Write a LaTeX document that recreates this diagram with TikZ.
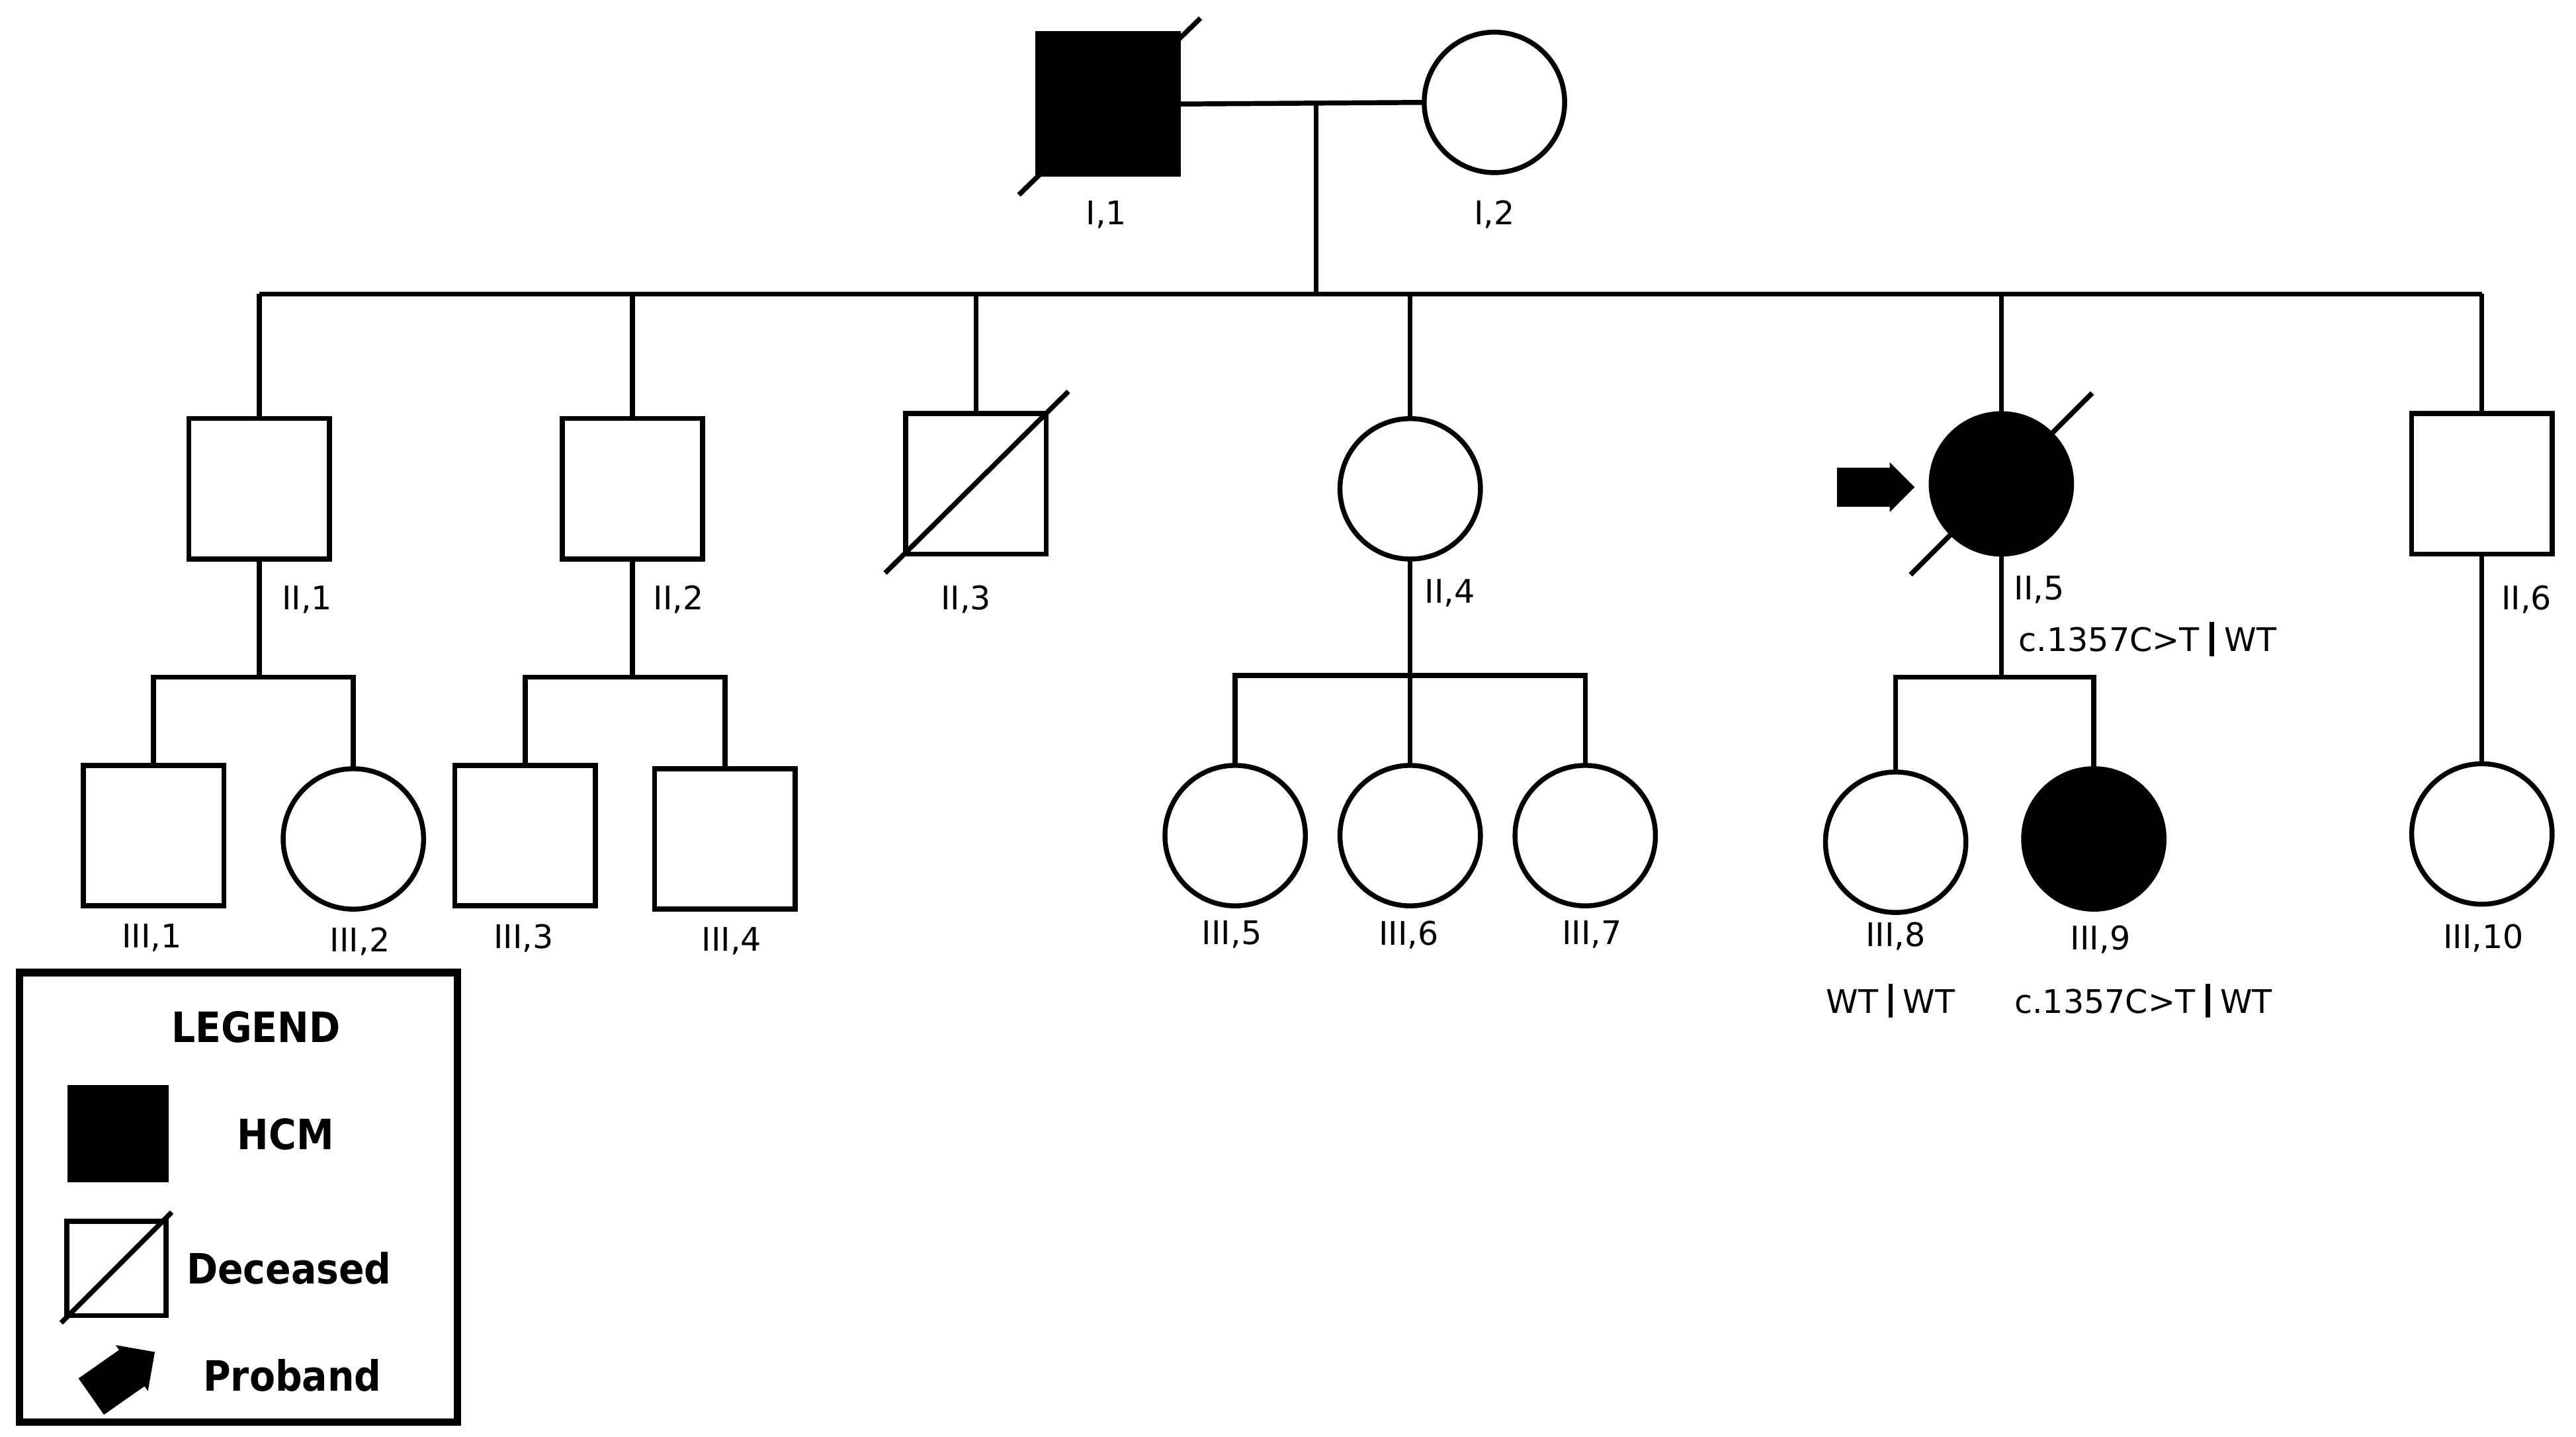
\documentclass[tikz,border=0pt]{standalone}
\usepackage{fontspec}
\setmainfont{DejaVu Sans}
\newfontfamily\legfont{DejaVu Sans Condensed}
\usetikzlibrary{shapes.arrows}
\newcommand{\gbar}{\ \rule[-0.15em]{0.13em}{1.05em}\ }
\begin{document}
\begin{tikzpicture}[x=0.01cm,y=-0.01cm,line width=0.85pt,
  sq/.style={draw,rectangle,minimum size=0.85cm,inner sep=0pt,outer sep=0pt},
  ci/.style={draw,circle,minimum size=0.85cm,inner sep=0pt,outer sep=0pt},
  aff/.style={fill=black},
  lbl/.style={font=\fontsize{5.6}{6.5}\selectfont,inner sep=0pt},
  leg/.style={font=\legfont\fontsize{7.2}{9}\selectfont\bfseries,inner sep=0pt},
  pro/.style={single arrow,fill=black,draw=none,minimum width=0.3cm,minimum height=0.47cm,single arrow head extend=0.02cm,single arrow tip angle=90,inner sep=0.06cm}]
\useasboundingbox (0,0) rectangle (1560,870);
% generation I
\node[sq,aff] (i1) at (671,63) {};
\node[ci] (i2) at (905,62) {};
\draw (617,118) -- (727,11);
\draw (i1.east) -- (i2.west);
\coordinate (m1) at (797,62);
\coordinate (s1) at (797,178);
\draw (m1) -- (s1);
\coordinate (sL) at (157,178);
\coordinate (sR) at (1503,178);
\draw (sL) -- (sR);
\node[lbl] at (670,130) {I,1};
\node[lbl] at (905,130) {I,2};
% generation II
\node[sq] (ii1) at (157,296) {};
\node[sq] (ii2) at (383,296) {};
\node[sq] (ii3) at (591,293) {};
\node[ci] (ii4) at (854,296) {};
\node[ci,aff] (ii5) at (1212,293) {};
\node[sq] (ii6) at (1503,293) {};
\draw (536,347) -- (647,237);
\draw (1157,348) -- (1267,238);
\foreach \n in {ii1,ii2,ii3,ii4,ii5,ii6}{
  \draw (\n.north) -- (\n.north |- sL);}
\node[pro] (arr) at (1130,295) {};
\node[lbl] at (186,363) {II,1};
\node[lbl] at (411,363) {II,2};
\node[lbl] at (585,363) {II,3};
\node[lbl] at (878,359) {II,4};
\node[lbl] at (1235,357) {II,5};
\node[lbl,anchor=west] at (1221,387) {c.1357C>T\gbar WT};
\node[lbl] at (1530,363) {II,6};
% generation III
\node[sq] (iii1) at (93,506) {};
\node[ci] (iii2) at (214,508) {};
\node[sq] (iii3) at (318,506) {};
\node[sq] (iii4) at (439,508) {};
\node[ci] (iii5) at (748,506) {};
\node[ci] (iii6) at (854,506) {};
\node[ci] (iii7) at (960,506) {};
\node[ci] (iii8) at (1148,510) {};
\node[ci,aff] (iii9) at (1268,508) {};
\node[ci] (iii10) at (1503,505) {};
% sibships
\coordinate (a1) at (157,410); \draw (ii1.south) -- (a1);
\draw (iii1.north) -- (iii1.north |- a1) -- (iii2.north |- a1) -- (iii2.north);
\coordinate (a2) at (383,410); \draw (ii2.south) -- (a2);
\draw (iii3.north) -- (iii3.north |- a2) -- (iii4.north |- a2) -- (iii4.north);
\coordinate (a4) at (854,409); \draw (ii4.south) -- (a4);
\draw (iii5.north) -- (iii5.north |- a4) -- (iii7.north |- a4) -- (iii7.north);
\draw (a4) -- (iii6.north);
\coordinate (a5) at (1212,410); \draw (ii5.south) -- (a5);
\draw (iii8.north) -- (iii8.north |- a5) -- (iii9.north |- a5) -- (iii9.north);
\draw (ii6.south) -- (iii10.north);
\node[lbl] at (92,568) {III,1};
\node[lbl] at (218,570) {III,2};
\node[lbl] at (317,568) {III,3};
\node[lbl] at (443,570) {III,4};
\node[lbl] at (746,566) {III,5};
\node[lbl] at (853,566) {III,6};
\node[lbl] at (964,566) {III,7};
\node[lbl] at (1148,567) {III,8};
\node[lbl] at (1272,569) {III,9};
\node[lbl] at (1504,568) {III,10};
\node[lbl] at (1145,606) {WT\gbar WT};
\node[lbl] at (1298,606) {c.1357C>T\gbar WT};
% legend
\node[draw,line width=1.3pt,minimum width=2.65cm,minimum height=2.72cm,inner sep=0pt] (legbox) at (144.5,725) {};
\node[leg] at (155,622) {LEGEND};
\node[fill=black,minimum width=0.61cm,minimum height=0.59cm,inner sep=0pt] (lhcm) at (71.5,686.5) {};
\node[leg] at (173,687) {HCM};
\node[draw,minimum width=0.6cm,minimum height=0.57cm,inner sep=0pt] (ldec) at (70.5,768) {};
\draw (37,801) -- (104,734);
\node[leg] at (175,768) {Deceased};
\node[pro,rotate=35,minimum width=0.34cm] (larr) at (69,836) {};
\node[leg] at (177,833) {Proband};
\end{tikzpicture}
\end{document}
